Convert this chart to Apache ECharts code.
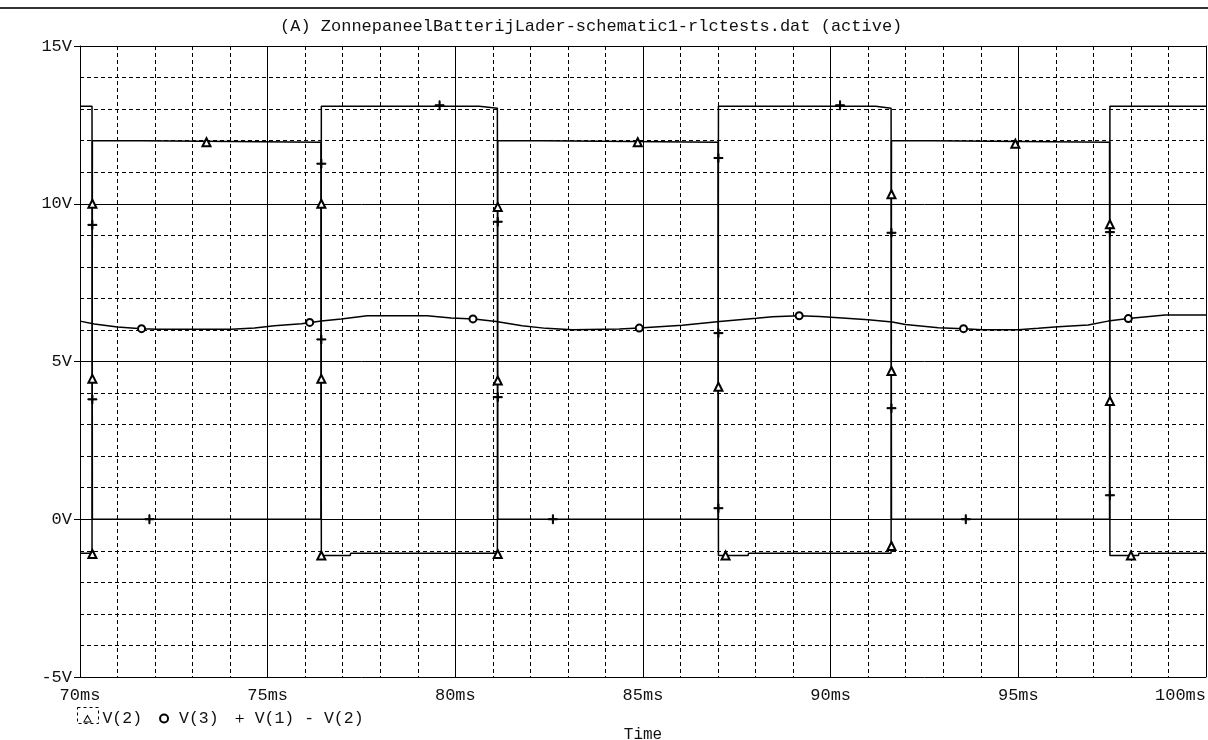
<!DOCTYPE html>
<html>
<head>
<meta charset="utf-8">
<script src="https://cdn.jsdelivr.net/npm/echarts@6/dist/echarts.min.js"></script>
<style>
html,body{margin:0;padding:0;background:#fff;}
#sample{width:1208px;height:740px;}
</style>
</head>
<body>
<div id="sample"></div>
<script>
// 时间轴 (ms) 与电压轴 (V)
var timeMin = 70, timeMax = 100, timeStep = 5;
var voltMin = -5, voltMax = 15, voltStep = 5;
var titleText = "(A) ZonnepaneelBatterijLader-schematic1-rlctests.dat (active)";
var seriesNames = ["V(2)", "V(3)", "V(1) - V(2)"];

// V(2) 开关节点
var v2Data = [
	[70.00,-1.08],[70.32,-1.08],[70.33,12.0],[71.64,12.0],[71.65,11.95],[76.42,11.95],
	[76.43,-1.15],[77.2,-1.15],[77.21,-1.08],[81.12,-1.08],[81.13,12.0],[82.3,12.0],[82.31,11.95],[87.0,11.95],
	[87.01,-1.15],[87.8,-1.15],[87.81,-1.08],[91.61,-1.08],[91.62,12.0],[92.71,12.0],[92.72,11.95],[97.43,11.95],
	[97.44,-1.15],[98.2,-1.15],[98.21,-1.08],[100.0,-1.08]
];
// V(3) 输出
var v3Data = [
	[70.0,6.28],[70.38,6.19],[71.0,6.09],[71.64,6.04],[72.06,6.02],[74.03,6.02],[74.65,6.06],[75.18,6.13],
	[75.9,6.2],[76.43,6.28],[76.96,6.35],[77.65,6.45],[79.25,6.45],[79.89,6.38],[80.5,6.35],[81.09,6.27],
	[81.78,6.13],[82.42,6.05],[83.12,6.01],[84.37,6.03],[84.9,6.06],[86.05,6.15],[87.04,6.27],[88.02,6.37],
	[88.45,6.42],[89.16,6.45],[89.7,6.43],[90.31,6.38],[91.0,6.32],[91.64,6.25],[91.99,6.17],[92.87,6.07],
	[93.54,6.04],[94.04,6.01],[95.0,6.01],[95.53,6.05],[96.06,6.1],[96.86,6.16],[97.39,6.28],[97.93,6.36],
	[98.91,6.47],[100.0,6.47]
];
// V(1) - V(2)
var v12Data = [
	[70.0,13.09],[70.32,13.09],[70.33,0],[76.42,0],[76.43,13.09],[80.64,13.09],[80.65,13.03],[81.12,13.03],
	[81.13,0],[87.0,0],[87.01,13.09],[91.2,13.09],[91.21,13.03],[91.61,13.03],[91.62,0],[97.43,0],
	[97.44,13.09],[100.0,13.09]
];

// 曲线上的标记点
var v2Marks = [
	[70.33,10.0],[70.33,4.45],[70.33,-1.1],[73.37,11.95],[76.43,10.0],[76.43,4.45],[76.43,-1.15],
	[81.13,9.9],[81.13,4.4],[81.13,-1.1],[84.86,11.95],[87.01,4.2],[87.2,-1.15],
	[91.62,10.3],[91.62,4.7],[91.62,-0.85],[94.92,11.9],[97.44,9.35],[97.44,3.75],[98.0,-1.15]
];
var v3Marks = [[71.64,6.04],[76.12,6.24],[80.47,6.35],[84.9,6.06],[89.16,6.45],[93.54,6.04],[97.93,6.36]];
var v12Marks = [
	[70.33,9.33],[70.33,3.8],[71.85,0],[76.43,11.27],[76.43,5.7],[79.58,13.12],[81.13,9.43],[81.13,3.87],
	[82.6,0],[87.01,0.35],[87.01,5.9],[87.01,11.45],[90.25,13.12],[91.62,9.08],[91.62,3.52],[93.6,0],
	[97.44,9.1],[97.44,0.76]
];

var plusPath = "path://M0,4.4H10V5.6H0ZM4.4,0H5.6V10H4.4Z";
var triPath = "path://M5,0L10,9L0,9Z M5,2.6L1.7,7.9L8.3,7.9Z";
var monoFont = "Liberation Mono";
var gridDash = [4, 3];

function toMarks(list, symbol, size){
	var arr = [];
	for(var i = 0; i < list.length; i++){
		arr.push({coord: list[i], symbol: symbol, symbolSize: size});
	}
	return arr;
}

function traceSeries(name, data, marks, symbol, size){
	return {
		name: name,
		type: 'line',
		data: data,
		showSymbol: false,
		symbol: 'none',
		lineStyle: {color: '#000', width: 1.5},
		itemStyle: {color: '#000'},
		markPoint: {
			silent: true,
			label: {show: false},
			itemStyle: {color: '#000', borderColor: '#000', borderWidth: 1},
			data: toMarks(marks, symbol, size)
		}
	};
}

var myChart = echarts.init(document.getElementById('sample'), null, {renderer: 'canvas'});
myChart.setOption({
	animation: false,
	backgroundColor: '#fff',
	color: ['#000', '#000', '#000'],
	title: {
		text: titleText,
		left: 275,
		top: 13,
		textStyle: {fontFamily: monoFont, fontSize: 17, fontWeight: 'normal', color: '#111'}
	},
	legend: {
		left: 78,
		top: 705,
		itemWidth: 20,
		itemHeight: 8,
		itemGap: 17,
		selectedMode: false,
		textStyle: {fontFamily: monoFont, fontSize: 16.5, color: '#111'},
		data: [
			{name: seriesNames[0], icon: triPath},
			{name: seriesNames[1], icon: 'emptyCircle'},
			{name: seriesNames[2], icon: plusPath}
		]
	},
	grid: {left: 80, right: 2, top: 46, bottom: 63, containLabel: false, outerBoundsMode: 'none'},
	xAxis: [{
		type: 'value',
		min: timeMin, max: timeMax, interval: timeStep,
		name: 'Time',
		nameLocation: 'middle',
		nameGap: 50,
		nameTextStyle: {fontFamily: monoFont, fontSize: 16, color: '#111'},
		axisLine: {lineStyle: {color: '#000', width: 1}},
		axisTick: {show: true, length: 6, lineStyle: {color: '#000'}},
		axisLabel: {
			margin: 10, fontFamily: monoFont, fontSize: 17, color: '#111',
			alignMaxLabel: 'right',
			formatter: function(v){ return v + 'ms'; }
		},
		splitLine: {show: true, lineStyle: {color: '#000', width: 1}},
		minorTick: {show: false, splitNumber: 5},
		minorSplitLine: {show: true, lineStyle: {color: '#000', width: 1, type: gridDash}}
	}, {
		type: 'value', position: 'top',
		min: timeMin, max: timeMax, interval: timeStep,
		axisLine: {show: true, onZero: false, lineStyle: {color: '#000', width: 1}},
		axisTick: {show: false}, axisLabel: {show: false}, splitLine: {show: false}
	}],
	yAxis: [{
		type: 'value',
		min: voltMin, max: voltMax, interval: voltStep,
		axisLine: {show: true, onZero: false, lineStyle: {color: '#000', width: 1, type: gridDash}},
		axisTick: {show: true, length: 6, lineStyle: {color: '#000', type: 'solid'}},
		axisLabel: {
			margin: 8, fontFamily: monoFont, fontSize: 17, color: '#111',
			padding: [6, 0, 0, 0],
			formatter: function(v){ return v + 'V'; }
		},
		splitLine: {show: true, lineStyle: {color: '#000', width: 1}},
		minorTick: {show: false, splitNumber: 5},
		minorSplitLine: {show: true, lineStyle: {color: '#000', width: 1, type: gridDash}}
	}, {
		type: 'value', position: 'right',
		min: voltMin, max: voltMax, interval: voltStep,
		axisLine: {show: true, onZero: false, lineStyle: {color: '#000', width: 1}},
		axisTick: {show: false}, axisLabel: {show: false}, splitLine: {show: false}
	}],
	graphic: [
		// 窗口上边框
		{type: 'line', shape: {x1: 0, y1: 8, x2: 1208, y2: 8}, style: {stroke: '#333', lineWidth: 2}},
		// 选中图例的虚线框
		{type: 'rect', shape: {x: 77.5, y: 707.5, width: 21, height: 16}, style: {fill: 'none', stroke: '#000', lineWidth: 1, lineDash: [3, 3]}}
	],
	series: [
		traceSeries(seriesNames[0], v2Data, v2Marks, 'emptyTriangle', 8),
		traceSeries(seriesNames[1], v3Data, v3Marks, 'emptyCircle', 7),
		traceSeries(seriesNames[2], v12Data, v12Marks, plusPath, 9)
	]
});
</script>
</body>
</html>
